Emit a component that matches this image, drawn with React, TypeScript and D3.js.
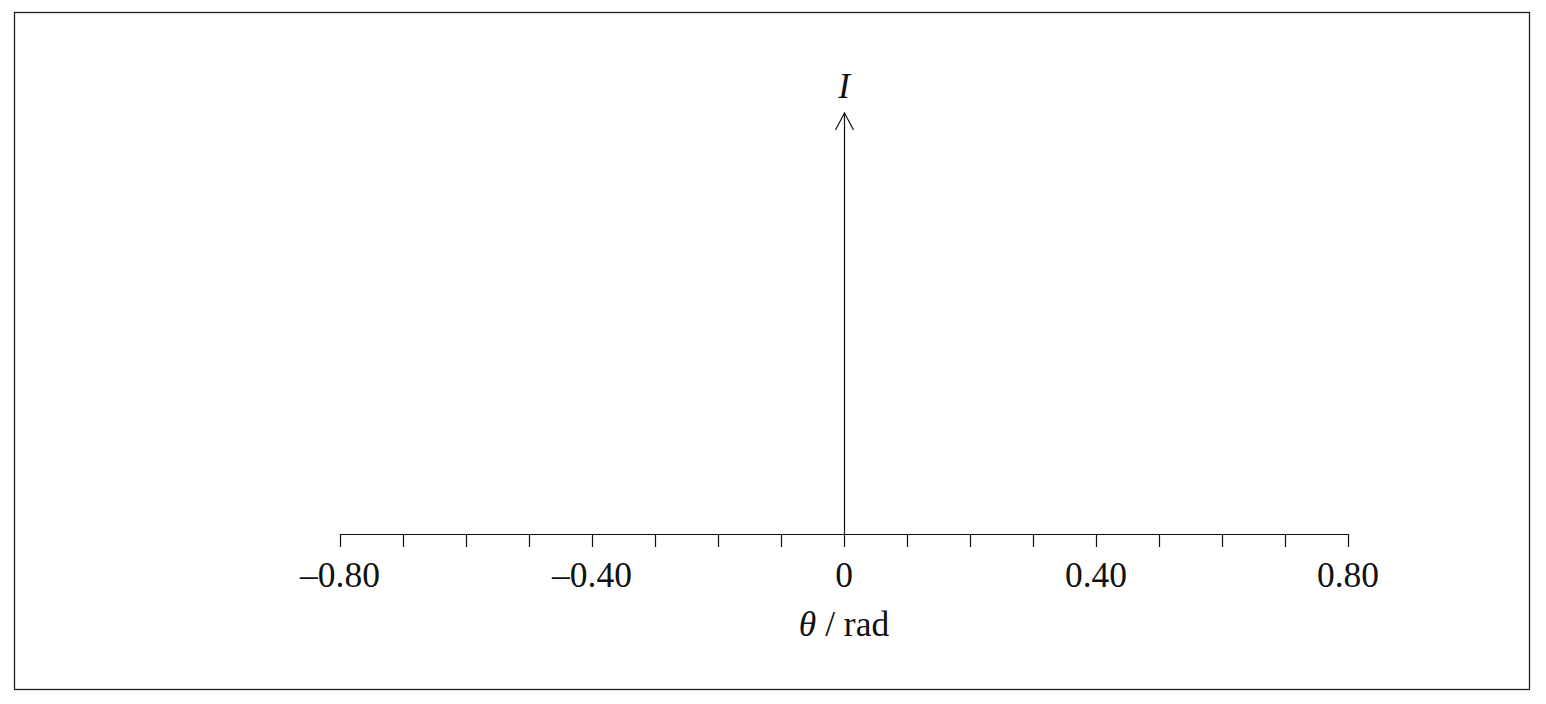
import React from "react";
import * as d3 from "d3";

const tickValues: number[] = [-0.8, -0.7, -0.6, -0.5, -0.4, -0.3, -0.2, -0.1, 0, 0.1, 0.2, 0.3, 0.4, 0.5, 0.6, 0.7, 0.8];
const labelValues: number[] = [-0.8, -0.4, 0, 0.4, 0.8];
const labelTexts: string[] = ["\u20130.80", "\u20130.40", "0", "0.40", "0.80"];
const xDomain: [number, number] = [-0.8, 0.8];
const yDomain: [number, number] = [0, 1];

export default function App() {
  const W = 1546, H = 704;
  const x = d3.scaleLinear().domain(xDomain).range([340, 1348]);
  const y = d3.scaleLinear().domain(yDomain).range([534, 113]);
  const axisY = y(0);
  const font = "'Liberation Serif', 'Times New Roman', serif";
  const x0 = x(0);
  const tip = y(1);
  return (
    <svg width={W} height={H} style={{ position: "absolute", left: 0, top: 0 }}>
      <rect x={14.5} y={12.5} width={1515} height={677} fill="white" stroke="#222" strokeWidth={1.3} />
      <line x1={x(xDomain[0])} x2={x(xDomain[1])} y1={axisY + 0.5} y2={axisY + 0.5} stroke="#111" strokeWidth={1.2} />
      {tickValues.map((v, i) => (
        <line key={i} x1={Math.round(x(v)) + 0.5} x2={Math.round(x(v)) + 0.5} y1={axisY} y2={axisY + 13} stroke="#111" strokeWidth={1.2} />
      ))}
      {labelValues.map((v, i) => (
        <text key={i} x={x(v)} y={587} textAnchor="middle" fontFamily={font} fontSize={35.5} fill="#111">
          {labelTexts[i]}
        </text>
      ))}
      <line x1={x0 + 0.5} x2={x0 + 0.5} y1={axisY} y2={tip} stroke="#111" strokeWidth={1.2} />
      <path d={`M${x0 + 0.5 - 9},${tip + 17} L${x0 + 0.5},${tip} L${x0 + 0.5 + 9},${tip + 17}`} fill="none" stroke="#111" strokeWidth={1.2} />
      <text x={x0} y={98} textAnchor="middle" fontFamily={font} fontSize={35} fontStyle="italic" fill="#111">I</text>
      <text x={x0} y={636} textAnchor="middle" fontFamily={font} fontSize={35.5} fill="#111">
        <tspan fontStyle="italic">θ</tspan>
        <tspan> / rad</tspan>
      </text>
    </svg>
  );
}
